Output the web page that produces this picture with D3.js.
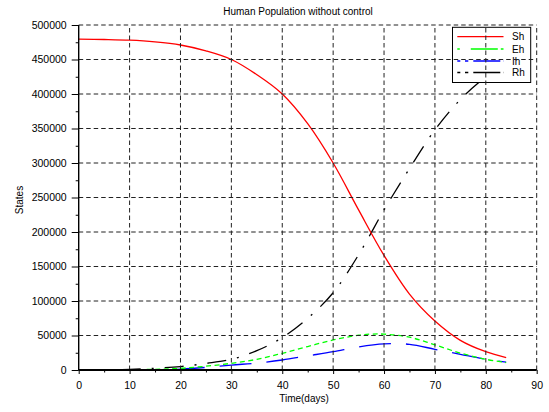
<!DOCTYPE html>
<html>
<head>
<meta charset="utf-8">
<script src="https://cdn.jsdelivr.net/npm/d3@7/dist/d3.min.js"></script>
<style>
  html, body { margin: 0; padding: 0; background: #fff; }
  svg { display: block; font-family: "Liberation Sans", Arial, sans-serif; }
</style>
</head>
<body>
<svg id="chart" width="549" height="412"></svg>
<script>
// ---- data ----
const title = "Human Population without control";
const xLabel = "Time(days)";
const yLabel = "States";
const seriesNames = ["Sh", "Eh", "Ih", "Rh"];

const tSh = [0, 5, 10, 15, 20, 25, 30, 35, 40, 45, 50, 55, 60, 65, 70, 75, 80, 84];
const Sh  = [479500, 479000, 478000, 475500, 471000, 462500, 450000, 428000, 400000, 357000, 300000, 232000, 166000, 110000, 71000, 43000, 26500, 18000];

const tEh = [0, 5, 10, 15, 20, 25, 30, 35, 40, 45, 50, 55, 57.5, 60, 65, 70, 75, 80, 84];
const Eh  = [0, 100, 400, 1000, 2400, 5500, 9700, 15500, 24200, 34000, 43500, 50500, 52000, 52000, 47500, 36500, 24500, 15500, 10800];

const tIh = [0, 5, 10, 15, 20, 25, 30, 35, 40, 45, 50, 55, 60, 65, 70, 75, 80, 84];
const Ih  = [0, 50, 200, 600, 1400, 3800, 7200, 10000, 14500, 20500, 26500, 33500, 37800, 37200, 30000, 22700, 15500, 11500];

const tRh = [0, 5, 10, 15, 20, 25, 30, 35, 40, 45, 50, 55, 60, 65, 70, 75, 80, 84];
const Rh  = [0, 200, 800, 2500, 5000, 9500, 15500, 28000, 47000, 75000, 112000, 167000, 232000, 292000, 348000, 392000, 425000, 447000];

const xTicks = [0, 10, 20, 30, 40, 50, 60, 70, 80, 90];
const xMinor = [5, 15, 25, 35, 45, 55, 65, 75, 85];
const yTicks = [0, 50000, 100000, 150000, 200000, 250000, 300000, 350000, 400000, 450000, 500000];
const yMinor = [25000, 75000, 125000, 175000, 225000, 275000, 325000, 375000, 425000, 475000];

// ---- setup ----
const svg = d3.select("#chart");
const L = 78.7, R = 536.7, T = 25, B = 370;
const x = d3.scaleLinear().domain([0, 90]).range([L, R]);
const y = d3.scaleLinear().domain([0, 500000]).range([B, T]);

const styles = {
  Sh: { color: "#ff0000", dash: null, legDash: null },
  Eh: { color: "#00ff00", dash: "5,3.5", legDash: "2.5,11,27,3,3" },
  Ih: { color: "#0000ff", dash: "32,15", legDash: "3,4.7,3.3,5,27" },
  Rh: { color: "#000000", dash: "19,11,2,11", legDash: "3,4.7,3.3,5,27" }
};
const seriesData = {
  Sh: tSh.map((t, i) => [t, Sh[i]]),
  Eh: tEh.map((t, i) => [t, Eh[i]]),
  Ih: tIh.map((t, i) => [t, Ih[i]]),
  Rh: tRh.map((t, i) => [t, Rh[i]])
};

const line = d3.line().x(d => x(d[0])).y(d => y(d[1])).curve(d3.curveCatmullRom.alpha(0.5));

// curves
const curves = svg.append("g");
["Rh", "Ih", "Eh", "Sh"].forEach(name => {
  curves.append("path")
    .datum(seriesData[name])
    .attr("fill", "none")
    .attr("stroke", styles[name].color)
    .attr("stroke-width", 1.3)
    .attr("stroke-dasharray", styles[name].dash)
    .attr("d", line);
});

// legend
const leg = svg.append("g");
const lx0 = 452.5, ly0 = 27.3, lx1 = 530.7, ly1 = 82.5;
leg.append("rect").attr("x", lx0).attr("y", ly0).attr("width", lx1 - lx0).attr("height", ly1 - ly0)
  .attr("fill", "#fff").attr("stroke", "#000").attr("stroke-width", 1);
const rowY = [36.7, 49, 61, 72.5];
seriesNames.forEach((name, i) => {
  leg.append("line").attr("x1", 457.3).attr("x2", 503.5).attr("y1", rowY[i]).attr("y2", rowY[i])
    .attr("stroke", styles[name].color).attr("stroke-width", 1.3)
    .attr("stroke-dasharray", styles[name].legDash);
  leg.append("text").attr("x", 512).attr("y", rowY[i] + 3.6)
    .attr("font-size", 10).attr("fill", "#000").text(name);
});

// grid (foreground)
const grid = svg.append("g").attr("stroke", "#222").attr("stroke-width", 1).attr("stroke-dasharray", "4.5,3");
xTicks.filter(t => t > 0).forEach(t => {
  grid.append("line").attr("x1", x(t)).attr("x2", x(t)).attr("y1", B).attr("y2", T);
});
yTicks.filter(t => t > 0).forEach(t => {
  grid.append("line").attr("x1", L).attr("x2", R).attr("y1", y(t)).attr("y2", y(t));
});

// axes
const ax = svg.append("g");
ax.append("line").attr("x1", L).attr("x2", R).attr("y1", B).attr("y2", B).attr("stroke", "#000").attr("stroke-width", 2);
ax.append("line").attr("x1", L).attr("x2", L).attr("y1", B).attr("y2", T).attr("stroke", "#000").attr("stroke-width", 1.4);

const xAxis = d3.axisBottom(x).tickValues(xTicks).tickSize(4).tickPadding(8).tickFormat(d3.format("d"));
const gx = svg.append("g").attr("transform", `translate(0,${B})`).call(xAxis);
gx.select(".domain").remove();
gx.selectAll("line").attr("stroke", "#000").attr("stroke-width", 1);
gx.selectAll("text").attr("font-size", 10.5).attr("fill", "#000").attr("font-family", "Liberation Sans, Arial, sans-serif");
const gxm = svg.append("g").attr("transform", `translate(0,${B})`).call(d3.axisBottom(x).tickValues(xMinor).tickSize(2.5).tickFormat(""));
gxm.select(".domain").remove();
gxm.selectAll("line").attr("stroke", "#000");

const yAxis = d3.axisLeft(y).tickValues(yTicks).tickSize(7).tickPadding(5).tickFormat(d3.format("d"));
const gy = svg.append("g").attr("transform", `translate(${L},0)`).call(yAxis);
gy.select(".domain").remove();
gy.selectAll("line").attr("stroke", "#000").attr("stroke-width", 1);
gy.selectAll("text").attr("font-size", 10.5).attr("fill", "#000").attr("font-family", "Liberation Sans, Arial, sans-serif");
const gym = svg.append("g").attr("transform", `translate(${L},0)`).call(d3.axisLeft(y).tickValues(yMinor).tickSize(3).tickFormat(""));
gym.select(".domain").remove();
gym.selectAll("line").attr("stroke", "#000");

// titles
svg.append("text").attr("x", 298).attr("y", 15).attr("text-anchor", "middle")
  .attr("font-size", 10).attr("fill", "#000").text(title);
svg.append("text").attr("x", 304).attr("y", 402).attr("text-anchor", "middle")
  .attr("font-size", 10).attr("fill", "#000").text(xLabel);
svg.append("text").attr("transform", "translate(23,200) rotate(-90)").attr("text-anchor", "middle")
  .attr("font-size", 10).attr("fill", "#000").text(yLabel);
</script>
</body>
</html>
